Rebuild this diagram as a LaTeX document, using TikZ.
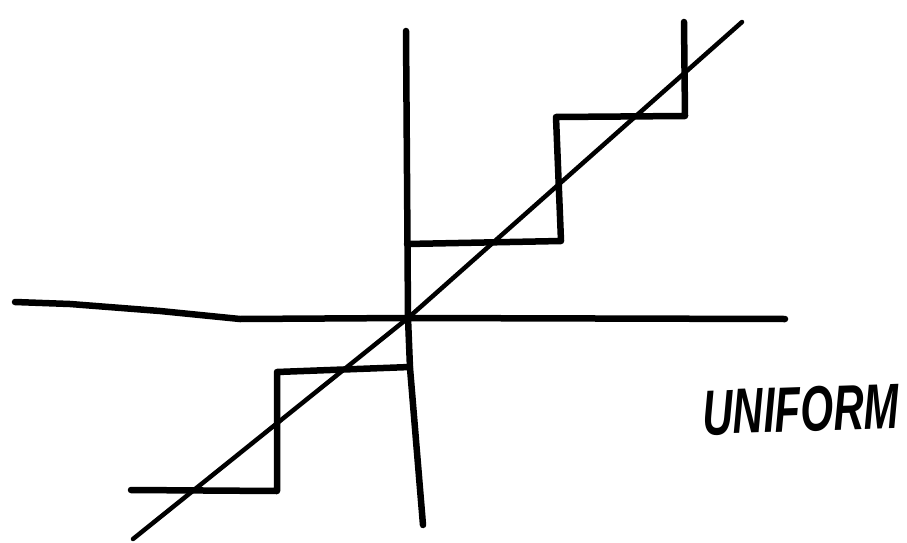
\documentclass[tikz,border=0pt]{standalone}
\usepackage{fontspec}
\newfontfamily\handfont{Liberation Sans}
\begin{document}
\begin{tikzpicture}[x=1pt,y=-1pt,
  ink/.style={line width=6.5pt,line cap=round,line join=round,black},
  thin ink/.style={line width=4.5pt,line cap=round,line join=round,black}]
\useasboundingbox (0,0) rectangle (907,543);
% axes
\coordinate (o) at (408,318);
\draw[ink] (15,302) -- (70,304) -- (160,311) -- (240,319) -- (o) -- (785,319);
\draw[ink] (406,31) -- (o) -- (410,368) -- (423,525);
% diagonal
\draw[thin ink] (133,539) -- (o) -- (742,22);
% upper staircase
\draw[ink] (407,244) -- (561,241) -- (556,117) -- (685,116) -- (684,22);
% lower staircase
\draw[ink] (410,367) -- (277,372) -- (277,491) -- (131,490);
% label
\node[anchor=base west,inner sep=0pt,rotate=2,xscale=0.66] (lbl) at (703,435)
  {\handfont\bfseries\itshape\fontsize{64}{64}\selectfont UNIFORM};
\end{tikzpicture}
\end{document}
